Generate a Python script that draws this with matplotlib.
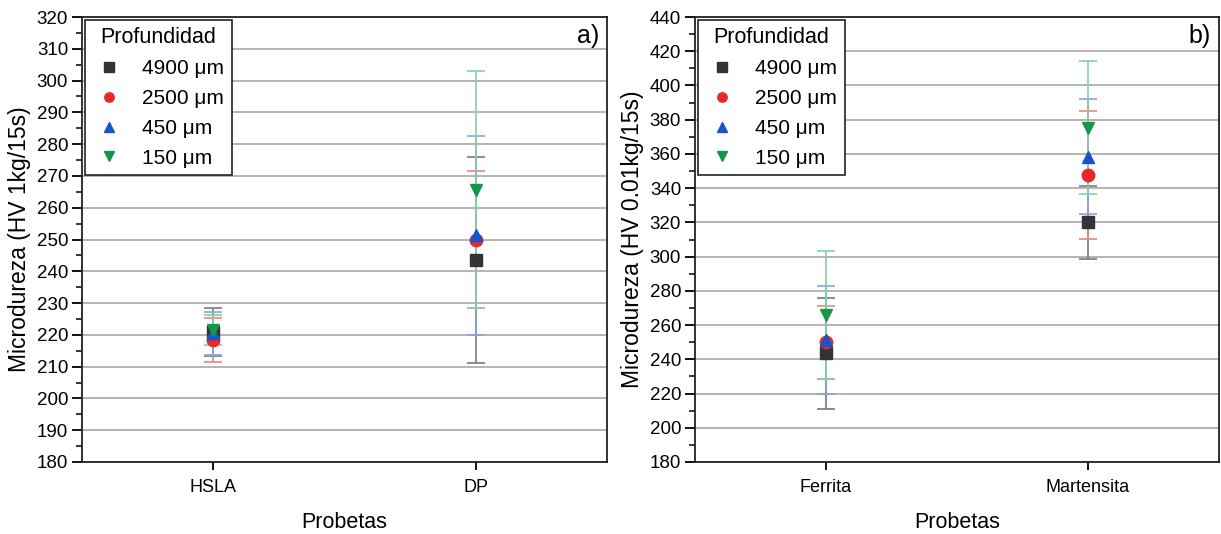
import matplotlib
matplotlib.use("Agg")
import matplotlib.pyplot as plt
from matplotlib.ticker import MultipleLocator
import numpy as np

plt.rcParams['font.family'] = ['Liberation Sans', 'DejaVu Sans']

# ---- data ----
series_labels = ['4900 μm', '2500 μm', '450 μm', '150 μm']

cats_a = ['HSLA', 'DP']
means_a = {
    '4900 μm': [220.9, 243.4],
    '2500 μm': [218.5, 250.0],
    '450 μm':  [220.5, 251.3],
    '150 μm':  [221.5, 265.7],
}
errs_a = {
    '4900 μm': [7.7, 32.4],
    '2500 μm': [6.9, 21.4],
    '450 μm':  [6.7, 31.4],
    '150 μm':  [4.7, 37.3],
}

cats_b = ['Ferrita', 'Martensita']
means_b = {
    '4900 μm': [243.4, 320.0],
    '2500 μm': [250.0, 347.5],
    '450 μm':  [251.3, 358.3],
    '150 μm':  [265.7, 375.3],
}
errs_b = {
    '4900 μm': [32.4, 21.4],
    '2500 μm': [21.4, 37.4],
    '450 μm':  [31.4, 33.5],
    '150 μm':  [37.3, 38.8],
}

# ---- styles ----
markers = {'4900 μm': 's', '2500 μm': 'o', '450 μm': '^', '150 μm': 'v'}
mcolors = {'4900 μm': '#333333', '2500 μm': '#e8282b', '450 μm': '#1455c8', '150 μm': '#17964a'}
ecolors = {'4900 μm': '#7a7a7a', '2500 μm': '#f08080', '450 μm': '#7fa6e6', '150 μm': '#86d0a4'}

fig = plt.figure(figsize=(12.21, 5.34), dpi=100)
ax1 = fig.add_axes([82/1221, 1-462/534, (607-82)/1221, (462-17)/534])
ax2 = fig.add_axes([695/1221, 1-462/534, (1219-695)/1221, (462-17)/534])


def draw(ax, cats, means, errs, ylim, major, minor, ylabel, tag):
    x = np.arange(1, len(cats) + 1)
    for s in series_labels:
        ax.errorbar(x, means[s], yerr=errs[s], fmt='none', ecolor=ecolors[s],
                    elinewidth=1.2, capsize=6.5, capthick=1.2, zorder=2)
    for s in series_labels:
        ax.plot(x, means[s], linestyle='none', marker=markers[s], color=mcolors[s],
                markeredgecolor=mcolors[s], markersize=9, zorder=3, label=s)
    ax.set_xlim(0.5, len(cats) + 0.5)
    ax.set_ylim(*ylim)
    ax.set_xticks(x)
    ax.set_xticklabels(cats, fontsize=13)
    ax.yaxis.set_major_locator(MultipleLocator(major))
    ax.yaxis.set_minor_locator(MultipleLocator(minor))
    ax.tick_params(axis='y', which='major', direction='out', length=7, width=1.3, labelsize=13.5, pad=3)
    ax.tick_params(axis='y', which='minor', direction='out', length=4, width=1.1)
    ax.tick_params(axis='x', which='major', direction='out', length=6, width=1.3, pad=6)
    ax.grid(axis='y', which='major', color='#b4b4b4', linewidth=1.4, zorder=0)
    ax.set_axisbelow(True)
    for sp in ax.spines.values():
        sp.set_linewidth(1.3)
        sp.set_color('#222222')
    ax.set_ylabel(ylabel, fontsize=16.5, labelpad=4)
    ax.set_xlabel('Probetas', fontsize=15.5, labelpad=12)
    ax.text(0.985, 0.985, tag, transform=ax.transAxes, ha='right', va='top', fontsize=18)
    leg = ax.legend(title='Profundidad', loc='upper left', fontsize=15, title_fontsize=15.5,
                    frameon=True, fancybox=False, edgecolor='#222222', framealpha=1,
                    borderaxespad=0.15, labelspacing=0.52, handletextpad=0.8,
                    markerscale=0.75, borderpad=0.35, handlelength=1.6)
    leg.get_frame().set_linewidth(1.2)


draw(ax1, cats_a, means_a, errs_a, (180, 320), 10, 5, 'Microdureza (HV 1kg/15s)', 'a)')
draw(ax2, cats_b, means_b, errs_b, (180, 440), 20, 10, 'Microdureza (HV 0.01kg/15s)', 'b)')

fig.savefig('out.png', dpi=100)
